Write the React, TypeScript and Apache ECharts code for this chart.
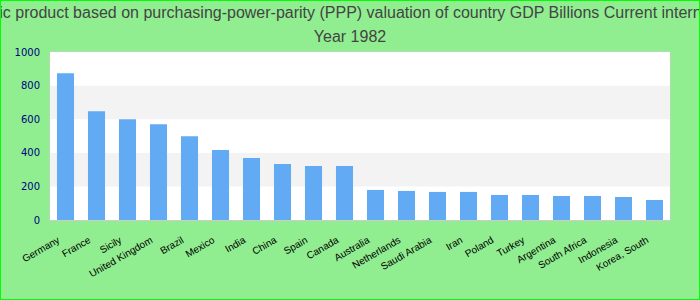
import React, { useEffect, useRef } from "react";
import * as echarts from "echarts";

const titleLine1 =
  "Gross domestic product based on purchasing-power-parity (PPP) valuation of country GDP Billions Current international dollars";
const titleLine2 = "Year 1982";

const countries = [
  "Germany",
  "France",
  "Sicily",
  "United Kingdom",
  "Brazil",
  "Mexico",
  "India",
  "China",
  "Spain",
  "Canada",
  "Australia",
  "Netherlands",
  "Saudi Arabia",
  "Iran",
  "Poland",
  "Turkey",
  "Argentina",
  "South Africa",
  "Indonesia",
  "Korea, South",
];

const gdpValues = [
  873, 647, 600, 570, 499, 416, 369, 333, 321, 321, 179, 173, 167, 167, 149,
  149, 143, 143, 137, 119,
];

const yMin = 0;
const yMax = 1000;
const yInterval = 200;

export default function App() {
  const ref = useRef<HTMLDivElement>(null);

  useEffect(() => {
    document.body.style.margin = "0";
    if (!ref.current) return;
    const chart = echarts.init(ref.current, null, { renderer: "svg" });
    chart.setOption({
      animation: false,
      backgroundColor: "#90EE90",
      title: {
        text: titleLine1 + "\n" + titleLine2,
        left: "center",
        top: 0,
        padding: 0,
        textStyle: {
          fontFamily: "Liberation Sans",
          fontSize: 16,
          fontWeight: "normal",
          color: "#444444",
          lineHeight: 24,
        },
      },
      graphic: [
        {
          type: "rect",
          shape: { x: 0, y: 0, width: 700, height: 300 },
          style: { fill: "none", stroke: "#00ff00", lineWidth: 2 },
          silent: true,
          z: 100,
        },
      ],
      grid: {
        left: 50,
        right: 30,
        top: 52,
        bottom: 80,
        show: true,
        backgroundColor: "#ffffff",
        borderColor: "#cccccc",
        borderWidth: 1,
      },
      xAxis: {
        type: "category",
        data: countries,
        axisLine: { lineStyle: { color: "#cccccc" } },
        axisTick: { show: false },
        axisLabel: {
          interval: 0,
          rotate: 30,
          margin: 15,
          padding: [0, 8, 0, 0],
          color: "#000000",
          fontFamily: "Liberation Sans",
          fontSize: 10,
        },
      },
      yAxis: {
        type: "value",
        min: yMin,
        max: yMax,
        interval: yInterval,
        axisLine: { show: false },
        axisTick: { show: false },
        splitLine: { show: false },
        splitArea: {
          show: true,
          areaStyle: { color: ["#ffffff", "#f3f3f3"] },
        },
        axisLabel: {
          margin: 10,
          color: "#000080",
          fontFamily: "DejaVu Sans",
          fontSize: 10,
          formatter: (v: number) => String(v),
        },
      },
      series: [
        {
          type: "bar",
          data: gdpValues,
          barWidth: "55%",
          itemStyle: { color: "#62AAF4" },
        },
      ],
    });
    return () => chart.dispose();
  }, []);

  return <div ref={ref} style={{ width: 700, height: 300 }} />;
}
